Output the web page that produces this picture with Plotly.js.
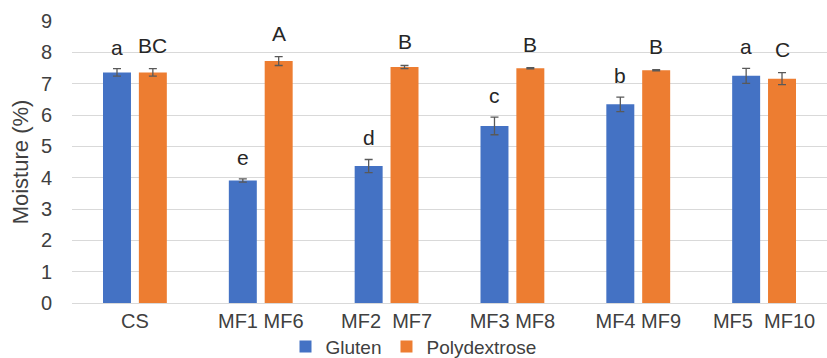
<!DOCTYPE html>
<html><head><meta charset="utf-8">
<script src="https://cdn.plot.ly/plotly-3.0.1.min.js"></script>
<style>html,body{margin:0;padding:0;background:#fff}#c{width:827px;height:358px}</style>
</head><body><div id="c"></div>
<script>
var categories = ["CS", "MF1 MF6", "MF2&nbsp; MF7", "MF3 MF8", "MF4 MF9", "MF5&nbsp; MF10"];
var gluten = [7.36, 3.91, 4.37, 5.65, 6.34, 7.25];
var glutenErr = [0.12, 0.05, 0.21, 0.28, 0.23, 0.24];
var glutenLetters = ["a", "e", "d", "c", "b", "a"];
var polydextrose = [7.36, 7.72, 7.53, 7.49, 7.43, 7.16];
var polyErr = [0.12, 0.14, 0.05, 0.02, 0.02, 0.19];
var polyLetters = ["BC", "A", "B", "B", "B", "C"];
var yTicks = [0, 1, 2, 3, 4, 5, 6, 7, 8, 9];

var font = "Liberation Sans, Arial, sans-serif";
var errStyle = {type: "data", visible: true, color: "#595959", thickness: 1.3, width: 4};

var traces = [
  {type: "bar", name: "Gluten", x: categories, y: gluten, marker: {color: "#4472C4"},
   error_y: Object.assign({array: glutenErr}, errStyle), offsetgroup: "g"},
  {type: "bar", name: "Polydextrose", x: categories, y: polydextrose, marker: {color: "#ED7D31"},
   error_y: Object.assign({array: polyErr}, errStyle), offsetgroup: "p"}
];

var annotations = [];
categories.forEach(function (c, i) {
  annotations.push({x: c, y: gluten[i] + glutenErr[i], text: glutenLetters[i], xref: "x", yref: "y",
    xshift: -18, yshift: 8, yanchor: "bottom", showarrow: false, font: {family: font, size: 21, color: "#262626"}});
  annotations.push({x: c, y: polydextrose[i] + polyErr[i], text: polyLetters[i], xref: "x", yref: "y",
    xshift: 18, yshift: 10, yanchor: "bottom", showarrow: false, font: {family: font, size: 21, color: "#262626"}});
});

var layout = {
  width: 827, height: 358,
  margin: {l: 72, r: 0, t: 21, b: 55, autoexpand: false},
  paper_bgcolor: "#fff", plot_bgcolor: "#fff",
  font: {family: font, size: 20, color: "#404040"},
  barmode: "group", bargap: 0.43, bargroupgap: 0.22,
  showlegend: true,
  legend: {orientation: "h", xref: "container", x: 0.5, xanchor: "center", yref: "container", y: 0.032, yanchor: "middle",
    font: {family: font, size: 19, color: "#404040"}, itemwidth: 30, traceorder: "normal", tracegroupgap: 0},
  xaxis: {type: "category", tickvals: categories, ticktext: categories, showgrid: false, showline: true,
    linecolor: "#D9D9D9", linewidth: 1, ticks: "", automargin: false, tickfont: {size: 20, color: "#404040"}},
  yaxis: {range: [0, 9], tickvals: yTicks, ticktext: yTicks.map(String), showgrid: true, gridcolor: "#D9D9D9",
    gridwidth: 1, zeroline: false, showline: false, ticks: "", ticklabelstandoff: 19, automargin: false,
    tickfont: {size: 20, color: "#404040"},
    title: {text: "Moisture (%)", font: {size: 22, color: "#404040"}, standoff: 6}},
  annotations: annotations
};

Plotly.newPlot("c", traces, layout, {staticPlot: true, displayModeBar: false});
</script></body></html>
